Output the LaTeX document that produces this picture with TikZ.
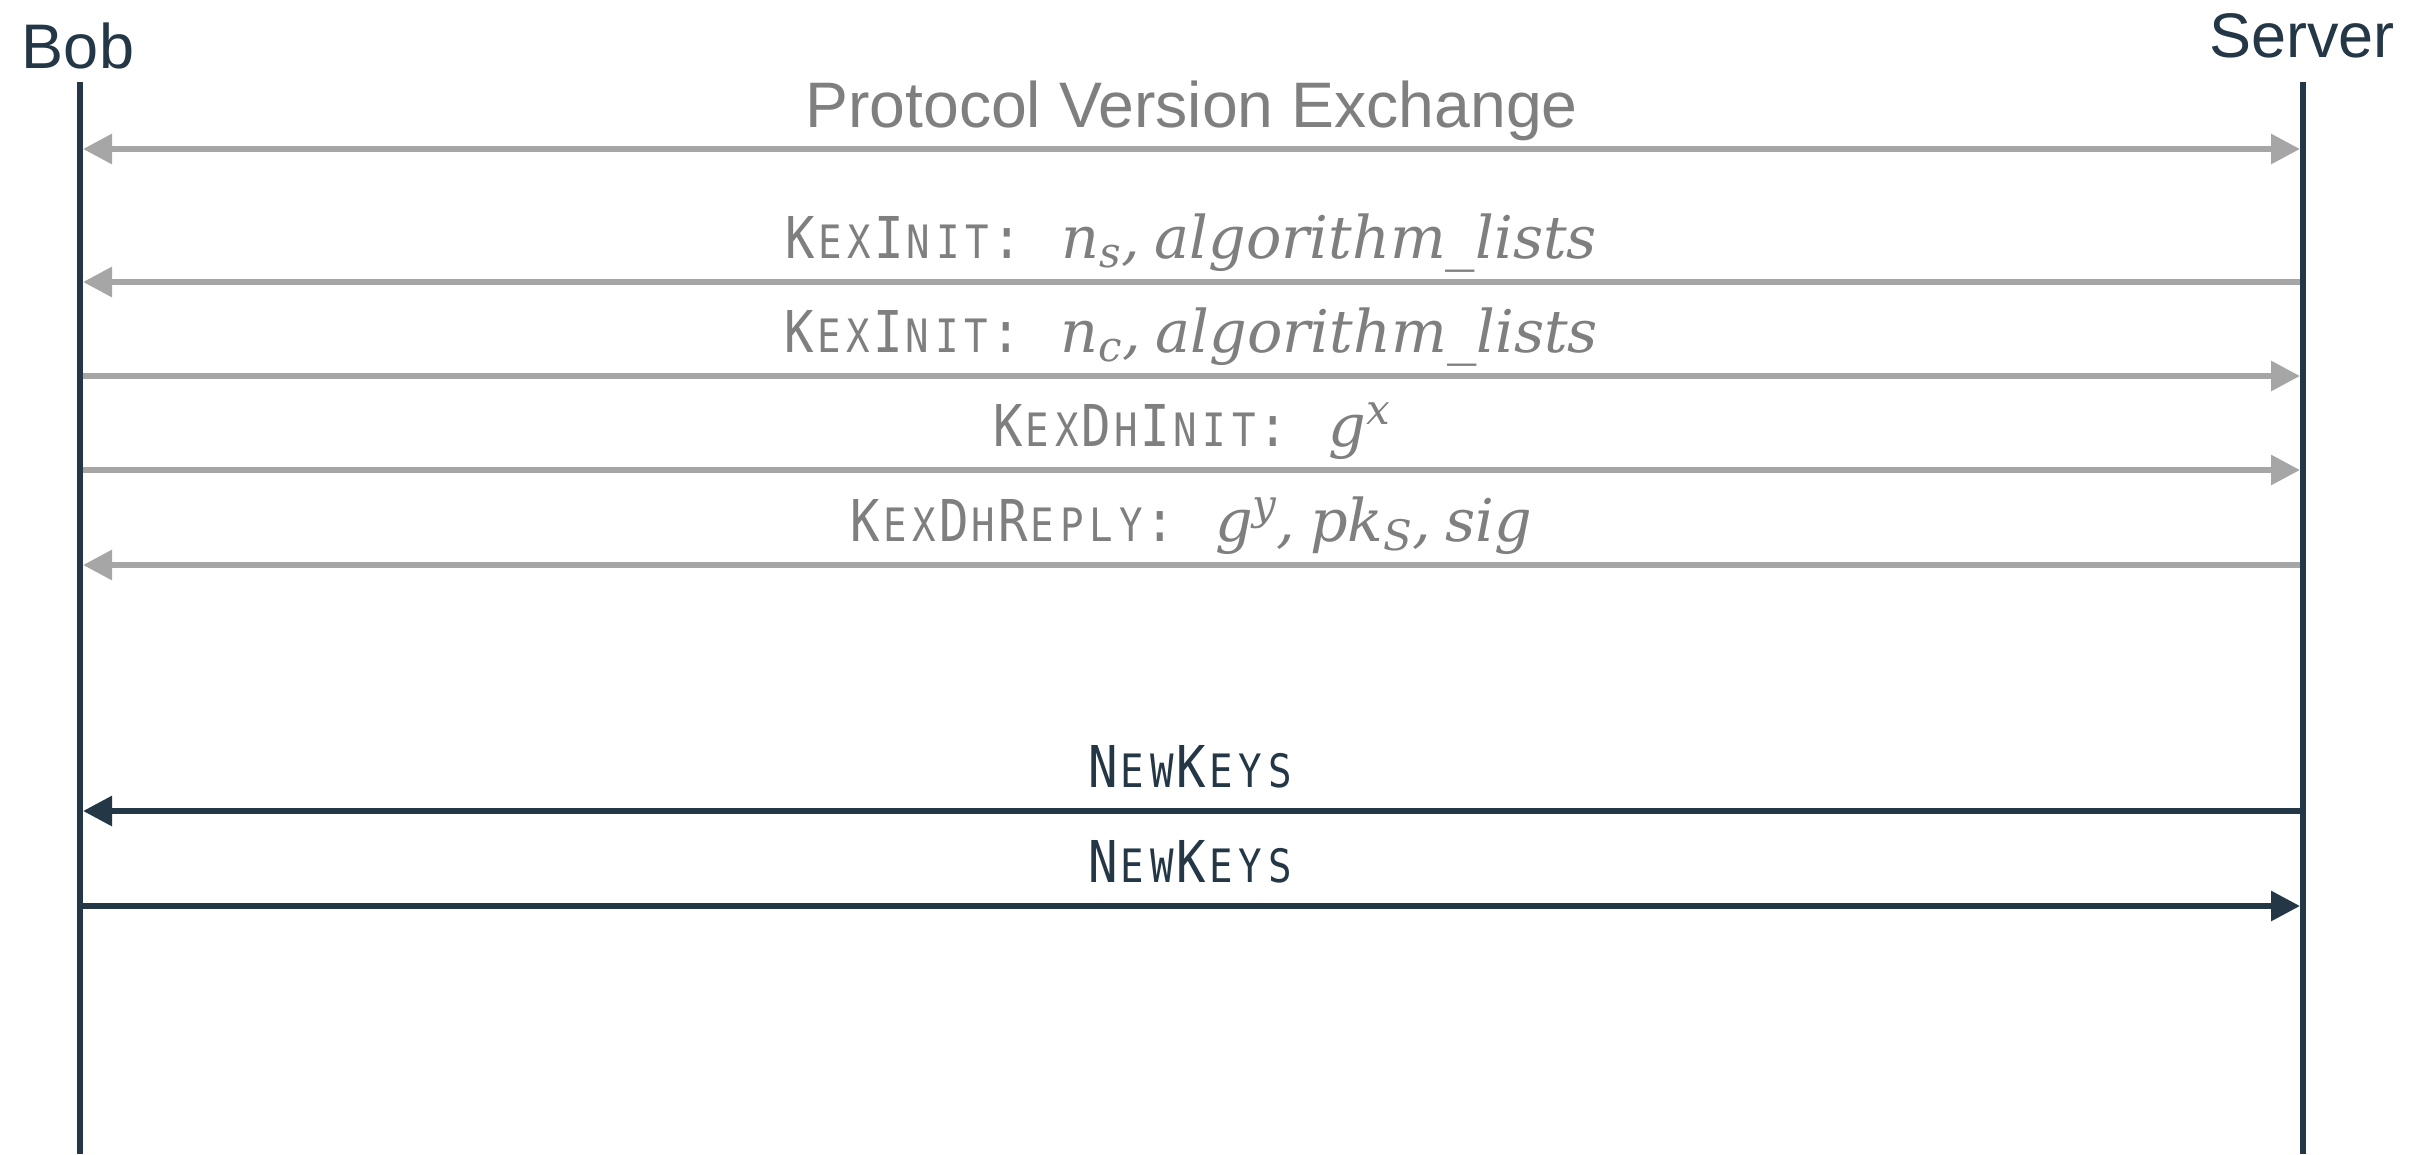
\documentclass[tikz,border=0pt]{standalone}
\usepackage{fontspec}
\setmainfont{Liberation Sans}
\newfontfamily\monofont{DejaVu Sans Mono}[FakeStretch=0.85]
\newfontfamily\varfont{DejaVu Serif}
\usetikzlibrary{arrows.meta}

\definecolor{navy}{HTML}{243746}
\definecolor{msggray}{HTML}{A6A6A6}
\definecolor{txtgray}{HTML}{7F7F7F}

% monospaced small caps: lower-case letters keep the full character cell
\newlength\monocell
\setlength\monocell{8.85pt}
\newcommand\smc[1]{\makebox[\monocell][c]{\fontsize{13.8pt}{16pt}\selectfont #1}}
\def\scl#1{\ifx#1\relax\else\smc{#1}\expandafter\scl\fi}
\newcommand\msgname[1]{{\monofont\fontsize{17.3pt}{20pt}\selectfont #1}}

% italic variables with sub- and superscripts
\newcommand\mv[1]{{\varfont\itshape\fontsize{17.65pt}{20pt}\selectfont #1}}
\newcommand\msub[1]{\raisebox{-2.9pt}{\varfont\itshape\fontsize{12.6pt}{14pt}\selectfont #1}}
\newcommand\msup[1]{\raisebox{6.6pt}{\varfont\itshape\fontsize{12.6pt}{14pt}\selectfont #1}}
\newcommand\gap{\hspace{12pt}}
\newcommand\sep{,\hspace{0.25em}}

\tikzset{
  lifeline/.style={draw=navy, line width=1.8pt},
  actor/.style={text=navy, font=\fontsize{18.9pt}{22pt}\selectfont, anchor=base, inner sep=0pt},
  graymsg/.style={draw=msggray, line width=1.8pt,
    -{Triangle[length=8.7pt, width=8.7pt]}, shorten >=0.9pt},
  graybidir/.style={draw=msggray, line width=1.8pt,
    {Triangle[length=8.7pt, width=8.7pt]}-{Triangle[length=8.7pt, width=8.7pt]},
    shorten >=0.9pt, shorten <=0.9pt},
  navymsg/.style={draw=navy, line width=1.8pt,
    -{Triangle[length=8.7pt, width=8.7pt]}, shorten >=0.9pt},
  graylabel/.style={text=txtgray, anchor=base, inner sep=0pt},
  navylabel/.style={text=navy, anchor=base, inner sep=0pt},
}

\begin{document}
\begin{tikzpicture}[x=0.3pt, y=-0.3pt]
  \useasboundingbox (0,0) rectangle (2415,1154);

  % participants
  \node[actor] (bob) at (78,68) {Bob};
  \node[actor] (server) at (2302,57) {Server};

  \coordinate (bobtop) at (80,82);
  \coordinate (bobbot) at (80,1154);
  \coordinate (srvtop) at (2303,82);
  \coordinate (srvbot) at (2303,1154);

  % message anchor points on both lifelines
  \foreach \i/\y in {1/149, 2/282, 3/376, 4/470, 5/565, 6/811, 7/906} {
    \coordinate (b\i) at (80,\y);
    \coordinate (s\i) at (2303,\y);
  }

  % messages
  \draw[graybidir] (b1) -- (s1);
  \node[graylabel, font=\fontsize{19.3pt}{22pt}\selectfont] (l1) at (1191.5,127)
    {Protocol Version Exchange};

  \draw[graymsg] (s2) -- (b2);
  \node[graylabel] (l2) at (1191.5,258)
    {\msgname{K\scl EX\relax I\scl NIT\relax:}\gap\mv{n\msub{s}\sep algorithm\_lists}};

  \draw[graymsg] (b3) -- (s3);
  \node[graylabel] (l3) at (1191.5,352)
    {\msgname{K\scl EX\relax I\scl NIT\relax:}\gap\mv{n\msub{c}\sep algorithm\_lists}};

  \draw[graymsg] (b4) -- (s4);
  \node[graylabel] (l4) at (1191.5,446)
    {\msgname{K\scl EX\relax D\scl H\relax I\scl NIT\relax:}\gap\mv{g\msup{x}}};

  \draw[graymsg] (s5) -- (b5);
  \node[graylabel] (l5) at (1191.5,541)
    {\msgname{K\scl EX\relax D\scl H\relax R\scl EPLY\relax:}\gap\mv{g\msup{y}\sep pk\msub{S}\sep sig}};

  \draw[navymsg] (s6) -- (b6);
  \node[navylabel] (l6) at (1191.5,787)
    {\msgname{N\scl EW\relax K\scl EYS\relax}};

  \draw[navymsg] (b7) -- (s7);
  \node[navylabel] (l7) at (1191.5,882)
    {\msgname{N\scl EW\relax K\scl EYS\relax}};

  % lifelines
  \draw[lifeline] (bobtop) -- (bobbot);
  \draw[lifeline] (srvtop) -- (srvbot);
\end{tikzpicture}
\end{document}
